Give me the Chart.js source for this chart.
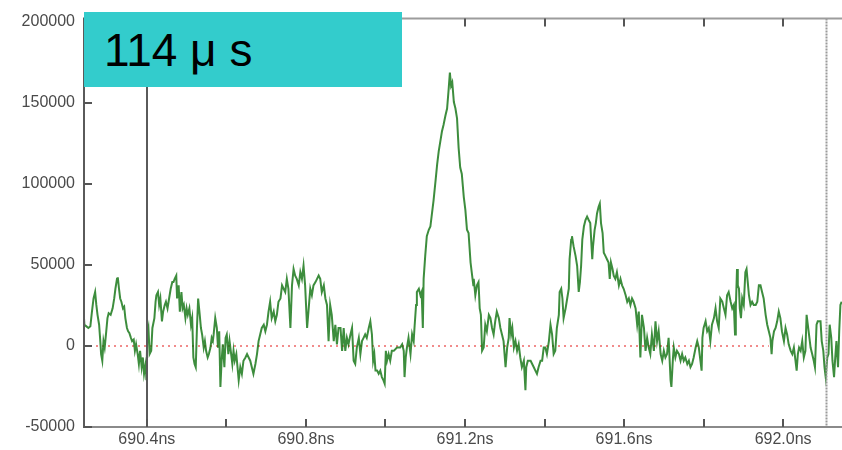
<!DOCTYPE html>
<html><head><meta charset="utf-8">
<script src="https://cdn.jsdelivr.net/npm/chart.js@4.4.1/dist/chart.umd.min.js"></script>
<style>
html,body{margin:0;padding:0;background:#fff;}
#wrap{position:relative;width:842px;height:450px;overflow:hidden;background:#fff;}
#c{position:absolute;left:0;top:0;}
#label{position:absolute;left:84px;top:12px;width:318px;height:75px;background:#33cccc;font-family:'Liberation Sans',Arial,sans-serif;font-size:46px;line-height:77px;color:#000;padding-left:20px;box-sizing:border-box;white-space:pre;}
</style></head><body>
<div id="wrap"><canvas id="c" width="842" height="450"></canvas><div id="label"></div></div>
<script>
// ---- data (time in ns, signal value) ----
const labelText = '114 μ s';
const times = [
690.241,690.243,690.248,690.253,690.258,690.262,690.266,690.270,690.273,690.276,690.280,690.283,690.285,690.288,690.291,690.294,690.298,690.301,690.304,690.309,
690.314,690.318,690.321,690.325,690.327,690.330,690.333,690.336,690.340,690.343,690.346,690.350,690.353,690.356,690.360,690.363,690.367,690.370,690.373,690.377,
690.380,690.383,690.387,690.390,690.393,690.397,690.399,690.401,690.404,690.407,690.411,690.414,690.419,690.422,690.424,690.428,690.431,690.434,690.438,690.441,
690.445,690.448,690.452,690.456,690.460,690.464,690.467,690.470,690.474,690.476,690.480,690.483,690.487,690.490,690.493,690.497,690.500,690.503,690.507,690.511,
690.514,690.517,690.520,690.523,690.526,690.529,690.533,690.536,690.539,690.543,690.546,690.549,690.553,690.556,690.560,690.563,690.566,
690.568,690.572,690.576,690.579,690.582,690.585,690.588,690.591,690.595,690.598,690.601,690.605,690.608,690.611,690.615,690.618,690.621,690.625,690.628,690.631,
690.635,690.639,690.643,690.648,690.652,690.656,690.660,690.664,690.668,690.673,690.677,690.681,690.685,690.689,690.694,690.698,690.702,690.706,690.710,690.714,
690.719,690.723,690.727,690.731,690.736,690.740,690.744,690.748,690.752,690.756,690.761,690.765,690.769,690.773,690.777,690.782,690.786,690.790,690.794,690.798,
690.803,690.807,690.811,690.815,690.819,690.824,690.828,690.832,690.836,690.840,690.845,690.849,690.853,690.857,690.861,690.865,690.870,690.874,690.878,690.882,
690.887,690.891,
690.895,690.899,690.903,690.907,690.912,690.916,690.920,690.924,690.928,690.933,690.937,690.941,690.945,690.949,690.953,690.958,690.962,690.966,690.969,690.972,
690.975,690.979,690.983,690.987,690.991,690.995,690.998,691.001,691.004,691.008,691.012,691.016,691.021,691.029,691.037,691.042,691.046,691.048,691.051,691.054,
691.058,691.063,691.067,691.071,691.073,691.077,691.079,691.084,691.088,691.091,691.094,691.096,691.100,691.104,691.109,691.113,691.117,691.121,691.126,691.130,
691.134,691.138,691.142,691.146,691.151,691.155,691.159,691.162,691.165,691.168,691.172,691.176,691.180,691.184,691.188,691.192,691.197,691.201,691.205,691.209,
691.214,691.218,691.221,
691.222,691.226,691.230,691.234,691.237,691.240,691.243,691.247,691.251,691.255,691.260,691.264,691.268,691.272,691.276,691.280,691.285,691.289,691.293,691.297,
691.302,691.306,691.310,691.312,691.316,691.319,691.323,691.327,691.331,691.335,691.339,691.343,691.348,691.352,691.354,691.358,691.365,691.369,691.373,691.377,
691.381,691.385,691.390,691.394,691.398,691.402,691.406,691.411,691.415,691.419,691.423,691.427,691.431,691.436,691.438,691.442,691.445,691.448,691.453,691.457,
691.461,691.463,691.467,691.469,691.473,691.478,691.482,691.486,691.489,691.492,691.495,691.499,691.503,691.507,691.511,691.515,691.520,691.522,691.526,691.529,
691.532,691.536,691.539,691.542,691.546,691.549,
691.553,691.557,691.561,691.564,691.567,691.571,691.574,691.578,691.582,691.587,691.591,691.595,691.599,691.604,691.608,691.612,691.616,691.620,691.624,691.629,
691.633,691.637,691.641,691.645,691.650,691.654,691.658,691.662,691.666,691.670,691.675,691.679,691.683,691.687,691.692,691.696,691.700,691.704,691.708,691.712,
691.717,691.719,691.723,691.725,691.729,691.733,691.738,691.742,691.746,691.750,691.754,691.759,691.763,691.767,691.771,691.775,691.780,691.784,691.788,691.792,
691.795,691.797,691.800,691.805,691.809,691.813,691.817,691.821,691.826,691.830,691.834,691.838,691.842,691.847,691.851,691.855,691.859,691.863,691.868,691.872,
691.876,
691.879,691.881,691.884,691.886,691.889,691.891,691.894,691.897,691.901,691.905,691.908,691.911,691.914,691.918,691.922,691.926,691.931,691.935,691.939,691.943,
691.947,691.951,691.956,691.960,691.964,691.968,691.971,691.973,691.977,691.981,691.985,691.989,691.993,691.997,692.002,692.006,692.010,692.014,692.019,692.023,
692.027,692.031,692.034,692.037,692.040,692.044,692.048,692.052,692.056,692.059,692.062,692.065,692.069,692.073,692.077,692.080,692.084,692.087,692.091,692.094,
692.097,692.101,692.104,692.107,692.111,692.114,692.117,692.121,692.124,692.128,692.131,692.134,692.138,692.141,692.144,692.147
];
const values = [
21200,13100,12100,11100,12100,21200,29300,33300,25300,19200,13100,3000,-5000,-9100,3000,-1000,9100,17200,20200,19200,
23200,29300,35300,41400,42400,35300,29300,27300,23200,24200,17200,11100,9100,8100,5000,3000,4000,-3000,1000,-5000,
-11100,-3000,-13100,-7100,-17200,-11100,-21200,7100,11100,-5000,-3000,11100,17200,27300,31300,33300,25300,29300,15200,21200,
25300,27300,23200,29300,35300,39400,39400,41400,43400,29300,37400,21200,33300,23200,25300,17200,23200,19200,23200,13100,
17200,-7100,-11100,-13100,11100,29300,19200,11100,7100,-1000,3000,-3000,-7100,-5000,-1000,5000,3000,
7100,17200,11100,-1000,9100,-25300,-9100,1000,-13100,5000,7100,-5000,3000,-3000,-11100,-3000,-9100,-5000,-13100,-21200,
-13100,-17200,-9100,-7100,-5000,-7100,-9100,-13100,-17200,-11100,-5000,3000,7100,11100,13100,9100,13100,21200,27300,17200,
21200,15200,19200,27300,29300,37400,35300,33300,41400,35300,11100,37400,47500,43400,41400,37400,45500,41400,49500,37400,
11100,23200,35300,31300,37400,39400,41400,43400,41400,33300,37400,29300,25300,3000,25300,19200,3000,13100,1000,11100,
11100,-3000,
11100,-3000,5000,1000,7100,11100,-9100,-11100,-1000,5000,-5000,3000,5000,7100,5000,11100,15200,7100,-9100,-5000,
-15200,-15200,-17200,-15200,-19200,-21200,-23200,-3000,-9100,-5000,-9100,-3000,-3000,-1000,-1000,1000,-3000,-19200,-7100,-1000,
5000,-5000,7100,3000,11100,25300,33300,35300,31300,33300,11100,41400,55600,67700,71700,73700,81800,89900,102000,112100,
120200,126200,132300,136400,142400,146500,158600,168700,160600,162600,150500,146500,140400,122200,110100,106100,91900,83800,71700,69700,
51500,43400,37400,
41400,31300,37400,39400,23200,19200,-3000,-1000,13100,9100,19200,17200,11100,7100,15200,21200,17200,11100,7100,3000,
-13100,-1000,5000,17200,7100,11100,-1000,3000,-3000,1000,-7100,-13100,-9100,-27300,-13100,-9100,-9100,-11100,-13100,-15200,
-17200,-13100,-9100,-9100,-1000,-1000,-5000,3000,13100,7100,-5000,-3000,11100,19200,33300,35300,29300,17200,23200,29300,
35300,53500,65600,67700,61600,55600,49500,33300,39400,49500,65600,73700,77700,79800,77700,75800,53500,61600,71700,75800,
81800,85900,87900,75800,69700,57600,
55600,53500,51500,41400,51500,47500,43400,41400,45500,37400,41400,37400,35300,31300,27300,29300,25300,29300,27300,23200,
13100,21200,-7100,19200,11100,-3000,5000,-1000,-5000,7100,-3000,15200,3000,9100,-5000,-9100,-3000,-7100,-5000,5000,
-21200,-25300,-7100,-1000,-7100,-3000,-5000,-9100,-5000,-9100,-7100,-11100,-9100,-13100,-11100,-7100,-1000,3000,-1000,-9100,
-15200,5000,11100,15200,9100,11100,3000,13100,17200,23200,15200,11100,29300,27300,23200,19200,31300,33300,27300,23200,
25300,
7100,23200,47500,37400,35300,23200,17200,29300,25300,45500,47500,39400,31300,25300,27300,25300,25300,27300,37400,37400,
33300,29300,19200,13100,9100,5000,-5000,3000,9100,11100,15200,21200,17200,9100,3000,11100,7100,1000,-3000,-5000,
-1000,-9100,-15200,-5000,-1000,-3000,3000,-7100,-3000,19200,13100,7100,-1000,-5000,-9100,-13100,13100,15200,15200,15200,
3000,-3000,-13100,-19200,-7100,-5000,13100,5000,-9100,-19200,-7100,3000,-13100,9100,25300,27300
];
const xRange = [690.242, 692.148];
const yRange = [-50000, 202000];
const xTickValues = [690.4, 690.6, 690.8, 691.0, 691.2, 691.4, 691.6, 691.8, 692.0];
const xLabelValues = [690.4, 690.8, 691.2, 691.6, 692.0];
const yTickValues = [-50000, 0, 50000, 100000, 150000, 200000];
const cursorAt = 690.4;        // solid vertical cursor
const markerAt = 692.109;      // dotted grey vertical marker
const zeroLine = {value: 0, end: 691.964};

document.getElementById('label').textContent = labelText;

const points = times.map((t, i) => ({x: t, y: values[i]}));

const overlay = {
  id: 'overlay',
  beforeDatasetsDraw(chart) {
    const {ctx, chartArea: a, scales: {x, y}} = chart;
    const y0 = y.getPixelForValue(zeroLine.value);
    ctx.save();
    ctx.strokeStyle = 'rgba(238,110,110,0.8)';
    ctx.lineWidth = 2;
    ctx.setLineDash([2, 4]);
    ctx.beginPath();
    ctx.moveTo(a.left, y0);
    ctx.lineTo(x.getPixelForValue(zeroLine.end), y0);
    ctx.stroke();
    ctx.restore();
  },
  afterDatasetsDraw(chart) {
    const {ctx, chartArea: a, scales: {x, y}} = chart;
    ctx.save();
    const mx = Math.round(x.getPixelForValue(markerAt)) + 0.5;
    ctx.strokeStyle = '#9a9a9a';
    ctx.lineWidth = 2;
    ctx.setLineDash([2, 1]);
    ctx.beginPath(); ctx.moveTo(mx, a.top); ctx.lineTo(mx, a.bottom); ctx.stroke();
    ctx.setLineDash([]);
    const cx = Math.round(x.getPixelForValue(cursorAt));
    ctx.strokeStyle = '#5a5a5a';
    ctx.lineWidth = 2;
    ctx.beginPath(); ctx.moveTo(cx, a.top); ctx.lineTo(cx, a.bottom); ctx.stroke();
    ctx.strokeStyle = '#9c9c9c';
    ctx.beginPath(); ctx.moveTo(a.left, a.top); ctx.lineTo(a.right, a.top); ctx.stroke();
    ctx.strokeStyle = '#8a8a8a';
    ctx.beginPath(); ctx.moveTo(a.left, a.bottom); ctx.lineTo(a.right, a.bottom); ctx.stroke();
    ctx.strokeStyle = '#5a5a5a';
    ctx.beginPath(); ctx.moveTo(a.left, a.top - 1); ctx.lineTo(a.left, a.bottom + 1); ctx.stroke();
    ctx.strokeStyle = '#555';
    ctx.lineWidth = 2;
    y.ticks.forEach(t => {
      const py = Math.round(y.getPixelForValue(t.value));
      ctx.beginPath(); ctx.moveTo(a.left, py); ctx.lineTo(a.left + 8, py); ctx.stroke();
    });
    x.ticks.forEach(t => {
      const px = Math.round(x.getPixelForValue(t.value));
      ctx.beginPath(); ctx.moveTo(px, a.bottom); ctx.lineTo(px, a.bottom - 8); ctx.stroke();
      ctx.beginPath(); ctx.moveTo(px, a.top); ctx.lineTo(px, a.top + 8); ctx.stroke();
    });
    ctx.restore();
  }
};

const font = {family: "'Liberation Sans', Arial, sans-serif", size: 16};

new Chart(document.getElementById('c'), {
  type: 'line',
  data: {
    datasets: [{
      data: points,
      borderColor: 'rgba(12,112,12,0.8)',
      borderWidth: 2,
      pointRadius: 0,
      tension: 0,
      fill: false
    }]
  },
  options: {
    responsive: false,
    animation: false,
    events: [],
    layout: {padding: {left: 0, right: 0, top: 12, bottom: 0}},
    plugins: {legend: {display: false}, tooltip: {enabled: false}, title: {display: false}},
    scales: {
      x: {
        type: 'linear',
        min: xRange[0], max: xRange[1],
        grid: {display: false, drawTicks: false},
        border: {display: false},
        afterFit(s) { s.height = 23; },
        afterBuildTicks(s) { s.ticks = xTickValues.map(v => ({value: v})); },
        ticks: {
          autoSkip: false,
          maxRotation: 0,
          padding: 3,
          color: '#4a4a4a',
          font,
          callback: (v) => xLabelValues.some(l => Math.abs(l - v) < 1e-6) ? v.toFixed(1) + 'ns' : ''
        }
      },
      y: {
        type: 'linear',
        min: yRange[0], max: yRange[1],
        grid: {display: false, drawTicks: false},
        border: {display: false},
        afterFit(s) { s.width = 84; },
        afterBuildTicks(s) { s.ticks = yTickValues.map(v => ({value: v})); },
        ticks: {
          autoSkip: false,
          padding: 9,
          color: '#4a4a4a',
          font,
          callback: (v) => String(v)
        }
      }
    }
  },
  plugins: [overlay]
});
</script>
</body></html>
